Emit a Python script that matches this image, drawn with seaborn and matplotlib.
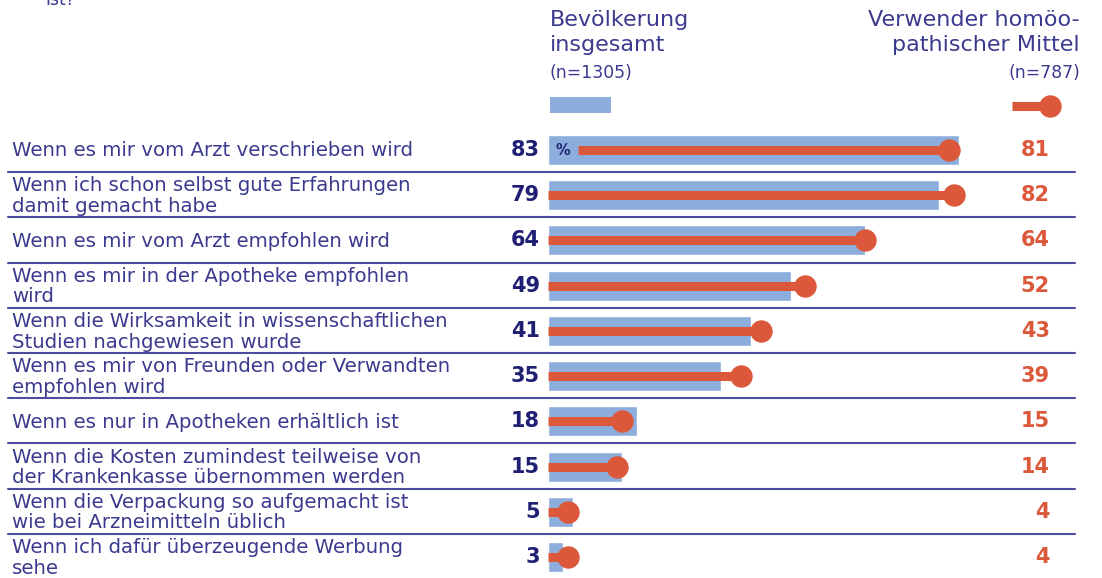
import matplotlib
matplotlib.use("Agg")
import matplotlib.pyplot as plt
from matplotlib.patches import Rectangle
import pandas as pd
import seaborn as sns

labels = [
    "Wenn es mir vom Arzt verschrieben wird",
    "Wenn ich schon selbst gute Erfahrungen\ndamit gemacht habe",
    "Wenn es mir vom Arzt empfohlen wird",
    "Wenn es mir in der Apotheke empfohlen\nwird",
    "Wenn die Wirksamkeit in wissenschaftlichen\nStudien nachgewiesen wurde",
    "Wenn es mir von Freunden oder Verwandten\nempfohlen wird",
    "Wenn es nur in Apotheken erhältlich ist",
    "Wenn die Kosten zumindest teilweise von\nder Krankenkasse übernommen werden",
    "Wenn die Verpackung so aufgemacht ist\nwie bei Arzneimitteln üblich",
    "Wenn ich dafür überzeugende Werbung\nsehe",
]
total = [83, 79, 64, 49, 41, 35, 18, 15, 5, 3]
users = [81, 82, 64, 52, 43, 39, 15, 14, 4, 4]

BLUE = "#8daedc"
RED = "#dc583b"
NAVY = "#1f1f74"
TXT = "#3b3a8e"
SEP = "#4d4b9e"

sns.set_theme(style="white")
plt.rcParams["font.family"] = ["DejaVu Sans"]

df = pd.DataFrame({"label": labels, "total": total, "users": users})

fig = plt.figure(figsize=(11.02, 5.78), dpi=100)
ax = fig.add_axes([0, 0, 1, 1])

sns.barplot(data=df, x="total", y="label", orient="h", color=BLUE,
            width=0.664, saturation=1, ax=ax)

ypos = list(range(len(labels)))
starts = [6] + [0] * (len(labels) - 1)
ax.hlines(ypos, starts, df["users"], color=RED, lw=6.5, zorder=3)
ax.scatter(df["users"], ypos, s=260, color=RED, zorder=4, linewidths=0)

px = 4.95
ax.set_xlim(-548 / px, (1102 - 548) / px)
ax.set_ylim(9 + 21 / 45.2, -150 / 45.2)
ax.axis("off")

for i in range(len(labels) - 1):
    ax.axhline(i + 0.487, xmin=8 / 1102, xmax=1075 / 1102, color=SEP, lw=1.5)

for i, (lab, t, u) in enumerate(zip(labels, total, users)):
    ax.text(-108.3, i + 0.02, lab, ha="left", va="center", fontsize=14.2,
            color=TXT, linespacing=1.1)
    ax.text(-1.6, i, str(t), ha="right", va="center", fontsize=15,
            fontweight="bold", color=NAVY)
    ax.text(101.4, i, str(u), ha="right", va="center", fontsize=15,
            fontweight="bold", color=RED)

ax.text(1.5, 0, "%", ha="left", va="center", fontsize=10.5,
        fontweight="bold", color=NAVY, zorder=5)

# headers
ax.text(0.3, -2.6, "Bevölkerung\ninsgesamt", ha="left", va="center",
        fontsize=16, color=TXT, linespacing=1.32)
ax.text(0.3, -1.7, "(n=1305)", ha="left", va="center", fontsize=12.4,
        color=TXT)
ax.text(107.5, -2.6, "Verwender homöo-\npathischer Mittel", ha="right",
        va="center", fontsize=16, color=TXT, linespacing=1.32)
ax.text(107.5, -1.7, "(n=787)", ha="right", va="center", fontsize=12.4,
        color=TXT)

# legend keys
ax.add_patch(Rectangle((0.4, -1.17), 12.3, 0.36, color=BLUE, lw=0))
ax.hlines(-0.97, 93.7, 101.4, color=RED, lw=6.5)
ax.scatter([101.4], [-0.97], s=260, color=RED, linewidths=0)

fig.text(45 / 1102, 1 - 5 / 578, "ist?", ha="left", va="baseline",
         fontsize=12.5, color=TXT)

fig.savefig("out.png", dpi=100)
